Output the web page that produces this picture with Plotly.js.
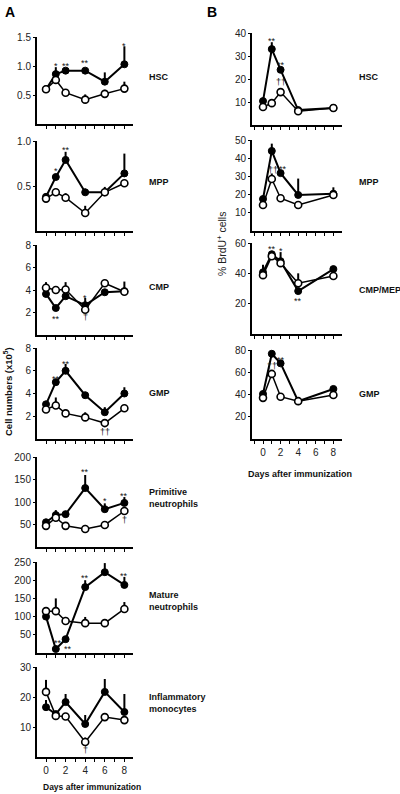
<!DOCTYPE html>
<html><head><meta charset="utf-8">
<script src="https://cdn.plot.ly/plotly-3.0.1.min.js"></script>
<style>html,body{margin:0;padding:0;background:#fff}#chart{width:400px;height:794px}</style>
</head><body><div id="chart"></div>
<script>
// ---------- DATA ----------
const daysA = [0,1,2,4,6,8];
const daysB = [0,1,2,4,8];
const xTickVals = [0,2,4,6,8];
const xTickText = ['0','2','4','6','8'];

// Panel A: cell numbers (x10^5); imm = immunized (filled), ctl = control (open)
const hscImm = [0.60,0.86,0.92,0.92,0.73,1.03], hscImmErr = [0.03,0.12,0.04,0.04,0.16,0.31];
const hscCtl = [0.60,0.76,0.54,0.42,0.52,0.61], hscCtlErr = [0.02,0.03,0.02,0.09,0.07,0.12];
const hscSigText = ['*','**','**','*'], hscSigX = [1,2,4,8], hscSigY = [1.05,1.05,1.10,1.39];

const mppImm = [0.38,0.60,0.79,0.43,0.43,0.64], mppImmErr = [0.02,0.03,0.09,0.04,0.03,0.22];
const mppCtl = [0.36,0.43,0.37,0.20,0.43,0.53], mppCtlErr = [0.02,0.03,0.05,0.08,0.06,0.03];
const mppSigText = ['*','**'], mppSigX = [1,2], mppSigY = [0.70,0.93];

const cmpImm = [3.65,2.40,3.45,2.65,3.80,3.90], cmpImmErr = [0.1,0.1,0.1,0.65,0.1,0.1];
const cmpCtl = [4.20,4.00,4.05,2.25,4.60,3.85], cmpCtlErr = [0.5,0.35,0.65,0.1,0.1,0.9];
const cmpSigText = ['**','*','†'], cmpSigX = [1,4,4], cmpSigY = [1.65,3.55,1.6];

const gmpImm = [3.05,5.00,6.00,3.85,2.35,4.00], gmpImmErr = [0.15,0.2,0.6,0.1,0.45,0.55];
const gmpCtl = [2.60,2.95,2.25,1.90,1.40,2.70], gmpCtlErr = [0.1,0.7,0.05,0.45,0.05,0.1];
const gmpSigText = ['**','**','††'], gmpSigX = [1,2,6], gmpSigY = [5.5,6.9,0.6];

const primImm = [55,71,73,131,84,98], primImmErr = [5,11,5,29,13,13];
const primCtl = [47,65,47,40,49,80], primCtlErr = [3,3,2,9,3,3];
const primSigText = ['**','*','**','†'], primSigX = [4,6,8,8], primSigY = [173,109,121,60];

const matImm = [100,11,38,181,222,187], matImmErr = [5,5,5,19,25,22];
const matCtl = [115,115,88,82,82,121], matCtlErr = [11,35,11,17,3,19];
const matSigText = ['**','**','**','**','**'], matSigX = [1.25,2.25,4,6,8], matSigY = [37,20,213,261,219];

const inflImm = [16.6,14.3,18.3,11.0,21.7,15.0], inflImmErr = [2.4,0.5,2.7,3,4.3,6];
const inflCtl = [21.7,13.7,13.5,5.0,13.3,12.3], inflCtlErr = [4,0.3,0.3,1.5,0.3,0.3];
const inflSigText = ['†'], inflSigX = [4], inflSigY = [2.2];

// Panel B: % BrdU+ cells
const bHscImm = [10.4,33.0,24.0,6.5,7.4], bHscImmErr = [0.5,3,0.5,0.3,0.3];
const bHscCtl = [7.8,9.5,14.3,6.0,7.4], bHscCtlErr = [0.3,0.3,0.5,0.3,0.3];
const bHscSigText = ['**','**','††'], bHscSigX = [1,2,2], bHscSigY = [38,27.5,18.7];

const bMppImm = [17.6,44.0,31.8,19.8,20.5], bMppImmErr = [1,4,0.5,9,3.5];
const bMppCtl = [14.3,28.6,18.0,14.3,19.8], bMppCtlErr = [0.5,3,0.5,0.5,0.5];
const bMppSigText = ['**','††','**'], bMppSigX = [1,1.1,2.3], bMppSigY = [50.5,33.5,35.5];

const bCmpImm = [40.7,52.6,48.0,28.3,42.8], bCmpImmErr = [5,1,6,0.5,0.5];
const bCmpCtl = [38.8,51.3,46.7,33.5,38.2], bCmpCtlErr = [1,1,1,6.5,1];
const bCmpSigText = ['**','*','**'], bCmpSigX = [1,2,4], bCmpSigY = [58,56.5,24];

const bGmpImm = [40.5,76.6,68.0,34.0,45.0], bGmpImmErr = [1,2,1,0.5,1];
const bGmpCtl = [37.0,58.5,38.0,34.0,39.6], bGmpCtlErr = [1,3,1,0.5,1];
const bGmpSigText = ['**','**','††'], bGmpSigX = [1,2.1,1], bGmpSigY = [83,74,66];

// ---------- PANELS ----------
const W = 400, H = 794;
const colA = {x0:37, x1:133, xr:[-0.92,8.88], labelX:147};
const colB = {x0:252, x1:342, xr:[-1.25,8.98], labelX:357};

const panels = [
 {col:colA, days:daysA, label:'HSC', imm:hscImm, immErr:hscImmErr, ctl:hscCtl, ctlErr:hscCtlErr, ymax:1.5, yt:[0.5,1.0,1.5], fmt:'.1f', top:37, bot:124, sT:hscSigText, sX:hscSigX, sY:hscSigY, ly:77},
 {col:colA, days:daysA, label:'MPP', imm:mppImm, immErr:mppImmErr, ctl:mppCtl, ctlErr:mppCtlErr, ymax:1.0, yt:[0.5,1.0], fmt:'.1f', top:141, bot:231, sT:mppSigText, sX:mppSigX, sY:mppSigY, ly:182},
 {col:colA, days:daysA, label:'CMP', imm:cmpImm, immErr:cmpImmErr, ctl:cmpCtl, ctlErr:cmpCtlErr, ymax:8, yt:[2,4,6,8], fmt:'d', top:245, bot:335, sT:cmpSigText, sX:cmpSigX, sY:cmpSigY, ly:287},
 {col:colA, days:daysA, label:'GMP', imm:gmpImm, immErr:gmpImmErr, ctl:gmpCtl, ctlErr:gmpCtlErr, ymax:8, yt:[2,4,6,8], fmt:'d', top:348, bot:439, sT:gmpSigText, sX:gmpSigX, sY:gmpSigY, ly:393},
 {col:colA, days:daysA, label:'Primitive<br>neutrophils', imm:primImm, immErr:primImmErr, ctl:primCtl, ctlErr:primCtlErr, ymax:200, yt:[50,100,150,200], fmt:'d', top:457, bot:547, sT:primSigText, sX:primSigX, sY:primSigY, ly:498},
 {col:colA, days:daysA, label:'Mature<br>neutrophils', imm:matImm, immErr:matImmErr, ctl:matCtl, ctlErr:matCtlErr, ymax:250, yt:[50,100,150,200,250], fmt:'d', top:562, bot:653, sT:matSigText, sX:matSigX, sY:matSigY, ly:601},
 {col:colA, days:daysA, label:'Inflammatory<br>monocytes', imm:inflImm, immErr:inflImmErr, ctl:inflCtl, ctlErr:inflCtlErr, ymax:30, yt:[10,20,30], fmt:'d', top:667, bot:757, sT:inflSigText, sX:inflSigX, sY:inflSigY, ly:703, bottomRow:true},
 {col:colB, days:daysB, label:'HSC', imm:bHscImm, immErr:bHscImmErr, ctl:bHscCtl, ctlErr:bHscCtlErr, ymax:40, yt:[10,20,30,40], fmt:'d', top:33, bot:125, sT:bHscSigText, sX:bHscSigX, sY:bHscSigY, ly:77},
 {col:colB, days:daysB, label:'MPP', imm:bMppImm, immErr:bMppImmErr, ctl:bMppCtl, ctlErr:bMppCtlErr, ymax:50, yt:[10,20,30,40,50], fmt:'d', top:140, bot:231, sT:bMppSigText, sX:bMppSigX, sY:bMppSigY, ly:182},
 {col:colB, days:daysB, label:'CMP/MEP', imm:bCmpImm, immErr:bCmpImmErr, ctl:bCmpCtl, ctlErr:bCmpCtlErr, ymax:60, yt:[20,40,60], fmt:'d', top:243, bot:334, sT:bCmpSigText, sX:bCmpSigX, sY:bCmpSigY, ly:290},
 {col:colB, days:daysB, label:'GMP', imm:bGmpImm, immErr:bGmpImmErr, ctl:bGmpCtl, ctlErr:bGmpCtlErr, ymax:80, yt:[20,40,60,80], fmt:'d', top:350, bot:439, sT:bGmpSigText, sX:bGmpSigX, sY:bGmpSigY, ly:394, bottomRow:true}
];

const FONT = 'Liberation Sans, Arial, sans-serif';
const traces = [];
const layout = {
  width:W, height:H, margin:{l:0,r:0,t:0,b:0}, showlegend:false,
  paper_bgcolor:'#fff', plot_bgcolor:'rgba(0,0,0,0)',
  font:{family:FONT, size:10, color:'#222'}, annotations:[]
};

panels.forEach((p,i) => {
  const n = i+1, xa = 'x'+n, ya = 'y'+n;
  const zeros = p.days.map(()=>0);
  traces.push({
    x:p.days, y:p.imm, xaxis:xa, yaxis:ya, type:'scatter', mode:'lines+markers', cliponaxis:false,
    line:{color:'#000', width:2}, marker:{color:'#000', size:7, line:{color:'#000', width:1}},
    error_y:{type:'data', symmetric:false, array:p.immErr, arrayminus:zeros, color:'#000', thickness:2, width:0}
  });
  traces.push({
    x:p.days, y:p.ctl, xaxis:xa, yaxis:ya, type:'scatter', mode:'lines+markers', cliponaxis:false,
    line:{color:'#000', width:1.5}, marker:{color:'#fff', size:7, line:{color:'#000', width:1.6}},
    error_y:{type:'data', symmetric:false, array:p.ctlErr, arrayminus:zeros, color:'#000', thickness:2, width:0}
  });
  layout['xaxis'+(n===1?'':n)] = {
    domain:[p.col.x0/W, p.col.x1/W], range:p.col.xr, anchor:ya,
    tickmode:'array', tickvals:xTickVals, ticktext:xTickText, showticklabels:!!p.bottomRow,
    ticks:'outside', ticklen:3, tickwidth:1, tickcolor:'#000',
    minor:{tick0:0, dtick:1, ticks:'outside', ticklen:3, tickwidth:1, tickcolor:'#000', showgrid:false},
    showline:true, linewidth:2, linecolor:'#000', showgrid:false, zeroline:false,
    tickfont:{size:10, color:'#222'}, fixedrange:true
  };
  layout['yaxis'+(n===1?'':n)] = {
    domain:[1-p.bot/H, 1-p.top/H], range:[0,p.ymax], anchor:xa,
    tickmode:'array', tickvals:p.yt, tickformat:p.fmt,
    ticks:'outside', ticklen:2, tickwidth:1, tickcolor:'#000',
    showline:true, linewidth:2, linecolor:'#000', showgrid:false, zeroline:false,
    tickfont:{size:10, color:'#222'}, fixedrange:true
  };
  layout.annotations.push({
    xref:'paper', yref:'paper', x:p.col.labelX/W, y:1-p.ly/H, xanchor:'left', yanchor:'middle',
    text:'<b>'+p.label+'</b>', showarrow:false, align:'left', font:{size:9, color:'#111'}
  });
  p.sT.forEach((t,k) => {
    layout.annotations.push({
      xref:xa, yref:ya, x:p.sX[k], y:p.sY[k], text:t, showarrow:false,
      xanchor:'center', yanchor:'middle', yshift: t.indexOf('*')>=0 ? -3 : 0,
      font:{size:9, color:'#111'}
    });
  });
});

layout.annotations.push(
  {xref:'paper', yref:'paper', x:3/W, y:1-12/H, xanchor:'left', yanchor:'middle', text:'<b>A</b>', showarrow:false, font:{size:14, color:'#000'}},
  {xref:'paper', yref:'paper', x:205/W, y:1-12/H, xanchor:'left', yanchor:'middle', text:'<b>B</b>', showarrow:false, font:{size:14, color:'#000'}},
  {xref:'paper', yref:'paper', x:8/W, y:1-392/H, xanchor:'center', yanchor:'middle', textangle:-90, text:'<b>Cell numbers (x10<sup>5</sup>)</b>', showarrow:false, font:{size:9.5, color:'#111'}},
  {xref:'paper', yref:'paper', x:221/W, y:1-244/H, xanchor:'center', yanchor:'middle', textangle:-90, text:'% BrdU<sup>+</sup> cells', showarrow:false, font:{size:10.5, color:'#222'}},
  {xref:'paper', yref:'paper', x:92/W, y:1-787/H, xanchor:'center', yanchor:'middle', text:'<b>Days after immunization</b>', showarrow:false, font:{size:8.5, color:'#111'}},
  {xref:'paper', yref:'paper', x:300/W, y:1-474/H, xanchor:'center', yanchor:'middle', text:'<b>Days after immunization</b>', showarrow:false, font:{size:9, color:'#111'}}
);

Plotly.newPlot('chart', traces, layout, {staticPlot:true, displayModeBar:false});
</script>
</body></html>
